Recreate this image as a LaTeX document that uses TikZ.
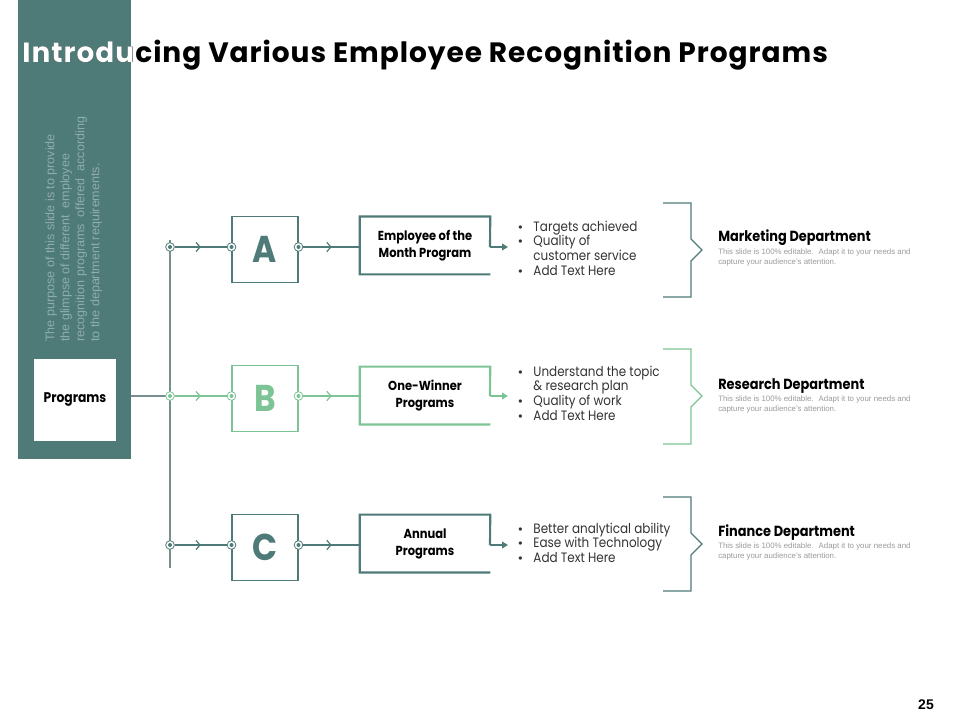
\documentclass[tikz,border=0pt]{standalone}
\usepackage{fontspec}
\setmainfont{Liberation Sans}
\newfontfamily\fut[FakeStretch=0.88]{Poppins}
\newfontfamily\futT[LetterSpace=3.5]{Poppins}
\usetikzlibrary{arrows.meta,decorations.markings}
\definecolor{tealA}{HTML}{4E7A78}
\definecolor{grn}{HTML}{7CC495}
\definecolor{vtext}{HTML}{8EAEAC}
\definecolor{gline}{HTML}{7A8E8D}
\definecolor{btext}{HTML}{333333}
\definecolor{desc}{HTML}{9A9A9A}
\tikzset{
  dotnode/.style={circle, draw=#1, fill=white, minimum size=6.5pt, inner sep=0pt, line width=0.6pt,
    path picture={\fill[#1] (path picture bounding box.center) circle (1.5pt);}},
  chev/.style={draw=#1, line width=0.9pt, postaction={decorate},
    decoration={markings, mark=at position 0.5 with {\arrow[#1, line width=0.9pt]{Straight Barb[length=3pt,width=7pt]}}}},
  letterbox/.style={draw=#1, line width=0.8pt, minimum width=49.5pt, minimum height=50pt, inner sep=0pt,
    text=#1, font=\fut\bfseries\fontsize{28}{30}\selectfont},
  progbox/.style={minimum width=97.5pt, minimum height=43pt, inner sep=0pt, align=center,
    font=\fut\bfseries\fontsize{9.8}{12.75}\selectfont},
  progedge/.style={draw=#1, line width=1.6pt},
  bullets/.style={anchor=north west, inner sep=0pt, text=btext, font=\fut\fontsize{10.2}{11}\selectfont, align=left},
  bracket/.style={draw=#1, line width=0.9pt},
  depttitle/.style={anchor=base west, inner sep=0pt, font=\fut\bfseries\fontsize{11}{12}\selectfont},
  deptdesc/.style={anchor=north west, inner sep=0pt, text=desc, font=\fontsize{5.9}{6.8}\selectfont, align=left},
  titlestyle/.style={anchor=base west, inner sep=0pt, font=\futT\bfseries\fontsize{21}{25}\selectfont},
}
\newcommand{\bl}[1]{\makebox[11.4pt][l]{\rmfamily\fontsize{9}{9}\selectfont\textbullet}#1}
\newcommand{\bc}[1]{\makebox[11.4pt][l]{}#1}
\begin{document}
\begin{tikzpicture}[x=0.75pt,y=-0.75pt]
\useasboundingbox (0,0) rectangle (960,720);
% side panel
\fill[tealA] (18,0) rectangle (131,459);
% title (black then white part clipped to the panel)
\node[titlestyle] (title) at (22,63) {Introducing Various Employee Recognition Programs};
\begin{scope}
\clip (18,0) rectangle (131,459);
\node[titlestyle, text=white] (titlew) at (22,63) {Introducing Various Employee Recognition Programs};
\end{scope}
% vertical text
\node[rotate=90, anchor=north west, inner sep=0pt, text=vtext, align=left, font=\fontsize{9.4}{11.25}\selectfont] (vt) at (45,342)
 {The purpose of this slide is to provide\\the glimpse of different \ employee\\recognition programs \ offered \ according\\to the department requirements.};
% programs box
\node[fill=white, minimum width=61.5pt, minimum height=61.5pt, inner sep=0pt, font=\fut\bfseries\fontsize{10.5}{12}\selectfont] (prog) at (75,400) {Programs};
% trunk
\coordinate (trunkTop) at (170,240);
\coordinate (trunkBot) at (170,568);
\coordinate (panelEdge) at (131,396);
\coordinate (trunkMid) at (170,396);
\draw[gline, line width=0.8pt] (trunkTop) -- (trunkBot);
\draw[gline, line width=0.8pt] (panelEdge) -- (trunkMid);

% rows
\foreach \r/\y/\col/\L in {A/249.5/tealA/A, B/398.5/grn/B, C/547.5/tealA/C}{
  \node[letterbox=\col] (box\r) at (265,\y) {\L};
}
% program boxes
\node[progbox] (pA) at (425,245.5) {Employee of the\\Month Program};
\node[progbox] (pB) at (425,395.5) {One-Winner\\Programs};
\node[progbox] (pC) at (425,543.5) {Annual\\Programs};

\foreach \r/\yy/\col in {A/247/tealA, B/396/grn, C/545/tealA}{
  \node[dotnode=\col] (d1\r) at (170,\yy) {};
  \node[dotnode=\col] (d2\r) at (231.5,\yy) {};
  \node[dotnode=\col] (d3\r) at (298.5,\yy) {};
  \coordinate (pin\r) at (360,\yy);
  \coordinate (pout\r) at (490,\yy);
  \coordinate (ptip\r) at (508,\yy);
  \draw[chev=\col] (d1\r) -- (d2\r);
  \draw[chev=\col] (d3\r) -- (pin\r);
  \draw[progedge=\col] (p\r.south east) -- (p\r.south west) -- (p\r.north west) -- (p\r.north east) -- (pout\r);
  \draw[progedge=\col, -{Triangle[length=4.5pt,width=5pt]}] (pout\r) -- (ptip\r);
}

% bullet lists
\node[bullets] (lA) at (518,220.5) {\bl{Targets achieved}\\\bl{Quality of}\\\bc{customer service}\\\bl{Add Text Here}};
\node[bullets] (lB) at (518,365.5) {\bl{Understand the topic}\\\bc{\& research plan}\\\bl{Quality of work}\\\bl{Add Text Here}};
\node[bullets] (lC) at (518,522.5) {\bl{Better analytical ability}\\\bl{Ease with Technology}\\\bl{Add Text Here}};

% brackets
\draw[bracket=tealA] (663,203) -- (691,203) -- (691,239) -- (702,250) -- (691,261) -- (691,297) -- (663,297);
\draw[bracket=grn] (663,349) -- (691,349) -- (691,385) -- (702,396) -- (691,407) -- (691,444) -- (663,444);
\draw[bracket=tealA] (663,497) -- (691,497) -- (691,533) -- (702,544) -- (691,555) -- (691,591) -- (663,591);

% departments
\node[depttitle] (tA) at (718,242) {Marketing Department};
\node[deptdesc] (eA) at (718,249) {This slide is 100\% editable. \ Adapt it to your needs and\\capture your audience's attention.};
\node[depttitle] (tB) at (718,389) {Research Department};
\node[deptdesc] (eB) at (718,396) {This slide is 100\% editable. \ Adapt it to your needs and\\capture your audience's attention.};
\node[depttitle] (tC) at (718,536) {Finance Department};
\node[deptdesc] (eC) at (718,543) {This slide is 100\% editable. \ Adapt it to your needs and\\capture your audience's attention.};

% page number
\node[inner sep=0pt, font=\bfseries\fontsize{10.5}{12}\selectfont] (pg) at (926,705) {25};
\end{tikzpicture}
\end{document}
